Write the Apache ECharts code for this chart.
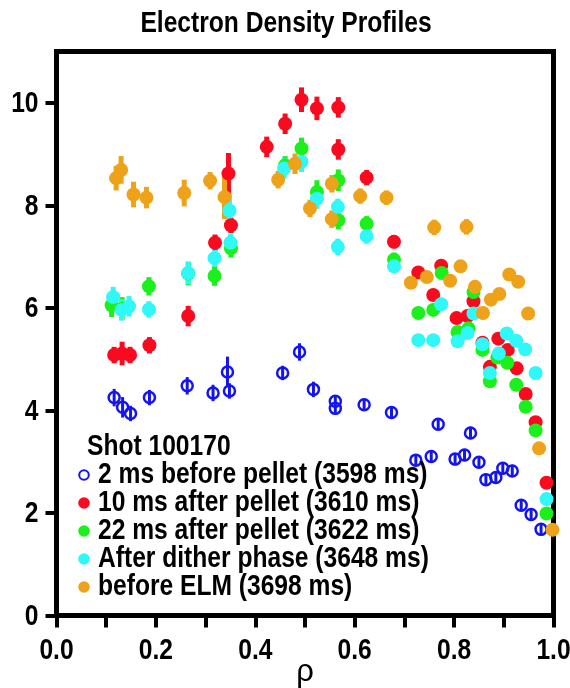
<!DOCTYPE html>
<html>
<head>
<meta charset="utf-8">
<title>Electron Density Profiles</title>
<script src="https://cdn.jsdelivr.net/npm/echarts@6/dist/echarts.min.js"></script>
<style>
  html, body { margin: 0; padding: 0; background: #fff; }
  #chart { width: 570px; height: 688px; }
</style>
</head>
<body>
<div id="chart"></div>
<script>
// Shot 100170 — electron density profiles vs normalized radius rho

const seriesNames = [
  '2 ms before pellet (3598 ms)',
  '10 ms after pellet (3610 ms)',
  '22 ms after pellet (3622 ms)',
  'After dither phase (3648 ms)',
  'before ELM (3698 ms)'
];
const shotLabel = 'Shot 100170';
const titleText = 'Electron Density Profiles';
const xAxisName = 'ρ';

const xTickValues = [0, 0.2, 0.4, 0.6, 0.8, 1.0];
const yTickValues = [0, 2, 4, 6, 8, 10];

// 2 ms before pellet
const rhoBefore = [0.116, 0.133, 0.149, 0.187, 0.263, 0.315, 0.344, 0.348, 0.455, 0.489, 0.517, 0.561, 0.561, 0.619, 0.674,
  0.768, 0.833, 0.723, 0.754, 0.802, 0.821, 0.850, 0.864, 0.884, 0.898, 0.917, 0.935, 0.955, 0.975];
const neBefore = [4.25, 4.06, 3.94, 4.25, 4.48, 4.34, 4.75, 4.38, 4.73, 5.14, 4.41, 4.18, 4.04, 4.11, 3.96,
  3.73, 3.56, 3.03, 3.10, 3.05, 3.13, 2.99, 2.65, 2.69, 2.87, 2.82, 2.15, 1.97, 1.68];
const errBefore = [0.17, 0.2, 0.15, 0.15, 0.17, 0.16, 0.3, 0.15, 0.14, 0.17, 0.15, 0.12, 0.12, 0.12, 0.12,
  0.12, 0.12, 0.12, 0.12, 0.12, 0.12, 0.12, 0.12, 0.12, 0.12, 0.12, 0.12, 0.12, 0.12];

// 10 ms after pellet
const rhoAfter10 = [0.116, 0.132, 0.148, 0.187, 0.265, 0.319, 0.346, 0.351, 0.423, 0.460, 0.493, 0.524, 0.567, 0.567, 0.624,
  0.679, 0.728, 0.774, 0.758, 0.805, 0.827, 0.839, 0.857, 0.889, 0.908, 0.872, 0.926, 0.944, 0.964, 0.986];
const neAfter10 = [5.08, 5.11, 5.08, 5.27, 5.84, 7.27, 8.62, 7.61, 9.14, 9.59, 10.06, 9.89, 9.91, 9.09, 8.54,
  7.29, 6.69, 6.82, 6.25, 5.80, 5.84, 6.13, 5.32, 5.40, 5.18, 4.85, 4.82, 4.32, 3.77, 2.59];
const errAfter10 = [0.16, 0.23, 0.16, 0.16, 0.2, 0.16, 0.4, 0.15, 0.2, 0.2, 0.24, 0.23, 0.2, 0.2, 0.15,
  0.13, 0.1, 0.1, 0.1, 0.1, 0.1, 0.1, 0.1, 0.1, 0.1, 0.1, 0.1, 0.1, 0.1, 0.1];

// 22 ms after pellet
const rhoAfter22 = [0.111, 0.132, 0.186, 0.265, 0.318, 0.351, 0.460, 0.493, 0.524, 0.567, 0.567, 0.624, 0.679,
  0.728, 0.758, 0.775, 0.807, 0.829, 0.839, 0.857, 0.887, 0.907, 0.872, 0.925, 0.944, 0.964, 0.986];
const neAfter22 = [6.05, 5.99, 6.42, 6.67, 6.62, 7.16, 8.78, 9.11, 8.26, 8.49, 7.71, 7.64, 6.94,
  5.90, 5.96, 6.68, 5.53, 5.60, 6.31, 5.18, 5.03, 4.93, 4.57, 4.50, 4.07, 3.61, 1.99];
const errAfter22 = [0.23, 0.22, 0.18, 0.23, 0.19, 0.18, 0.18, 0.21, 0.23, 0.21, 0.18, 0.15, 0.14,
  0.1, 0.1, 0.1, 0.1, 0.1, 0.1, 0.1, 0.1, 0.1, 0.1, 0.1, 0.1, 0.1, 0.1];

// After dither phase
const rhoDither = [0.114, 0.131, 0.146, 0.186, 0.265, 0.318, 0.350, 0.348, 0.458, 0.493, 0.524, 0.566, 0.566, 0.624, 0.679,
  0.728, 0.758, 0.774, 0.807, 0.827, 0.839, 0.857, 0.890, 0.872, 0.906, 0.925, 0.943, 0.964, 0.986];
const neDither = [6.21, 5.96, 6.03, 5.97, 6.68, 6.97, 7.27, 7.90, 8.72, 8.85, 8.13, 7.97, 7.19, 7.40, 6.81,
  5.37, 5.37, 6.07, 5.35, 5.51, 5.89, 5.29, 5.11, 4.73, 5.50, 5.36, 5.19, 4.73, 2.27];
const errDither = [0.2, 0.21, 0.2, 0.16, 0.22, 0.16, 0.18, 0.33, 0.2, 0.2, 0.2, 0.16, 0.16, 0.15, 0.12,
  0.08, 0.08, 0.08, 0.08, 0.08, 0.08, 0.08, 0.08, 0.08, 0.08, 0.08, 0.08, 0.08, 0.08];

// before ELM
const rhoElm = [0.120, 0.130, 0.155, 0.181, 0.257, 0.309, 0.338, 0.446, 0.480, 0.510, 0.554, 0.554, 0.611, 0.664,
  0.760, 0.825, 0.713, 0.745, 0.792, 0.813, 0.842, 0.858, 0.874, 0.891, 0.911, 0.929, 0.949, 0.971, 0.998];
const neElm = [8.53, 8.69, 8.21, 8.15, 8.24, 8.48, 8.16, 8.50, 8.81, 7.94, 8.42, 7.73, 8.18, 8.15,
  7.57, 7.58, 6.49, 6.60, 6.53, 6.81, 6.41, 5.90, 6.16, 6.27, 6.65, 6.51, 5.89, 3.26, 1.67];
const errElm = [0.24, 0.27, 0.25, 0.21, 0.26, 0.17, 0.43, 0.17, 0.2, 0.17, 0.17, 0.17, 0.15, 0.14,
  0.15, 0.15, 0.1, 0.1, 0.1, 0.1, 0.1, 0.1, 0.1, 0.1, 0.1, 0.1, 0.1, 0.1, 0.1];

const groups = [
  { rho: rhoBefore, ne: neBefore, err: errBefore },
  { rho: rhoAfter10, ne: neAfter10, err: errAfter10 },
  { rho: rhoAfter22, ne: neAfter22, err: errAfter22 },
  { rho: rhoDither, ne: neDither, err: errDither },
  { rho: rhoElm, ne: neElm, err: errElm }
];

// drawing styles
const colors = ['#1414f0', '#fa0a1e', '#1cf01c', '#30f8f8', '#eea21a'];
// narrow bold face: Liberation Sans Bold squeezed horizontally
const LABEL_FONT = 'bold 30px "Liberation Sans", Arial, sans-serif';
const NARROW = 0.82;

function errorBarSeries(idx) {
  const g = groups[idx];
  const color = colors[idx];
  const hollow = idx === 0;
  return {
    type: 'custom',
    name: seriesNames[idx] + ' (error)',
    silent: true,
    clip: false,
    data: g.rho.map((r, i) => [r, g.ne[i] - g.err[i], g.ne[i] + g.err[i]]),
    encode: { x: 0, y: [1, 2] },
    renderItem(params, api) {
      const lo = api.coord([api.value(0), api.value(1)]);
      const hi = api.coord([api.value(0), api.value(2)]);
      return {
        type: 'line',
        shape: { x1: lo[0], y1: lo[1], x2: hi[0], y2: hi[1] },
        style: { stroke: color, lineWidth: hollow ? 3 : 5 }
      };
    }
  };
}

function pointSeries(idx) {
  const g = groups[idx];
  const hollow = idx === 0;
  return {
    type: 'scatter',
    name: seriesNames[idx],
    clip: false,
    symbol: 'circle',
    symbolSize: hollow ? 11 : 14,
    data: g.rho.map((r, i) => [r, g.ne[i]]),
    itemStyle: hollow
      ? { color: 'rgba(255,255,255,0)', borderColor: colors[idx], borderWidth: 2.5, opacity: 1 }
      : { color: colors[idx], opacity: 1 },
    emphasis: { disabled: true }
  };
}

// tick labels placed through the axes' own scales, drawn in the narrow face
const xTickLabelSeries = {
  type: 'custom', name: 'x tick labels', silent: true, clip: false, z: 5,
  data: xTickValues.map(v => [v, 0]),
  encode: { x: 0, y: 1 },
  renderItem(params, api) {
    const p = api.coord([api.value(0), api.value(1)]);
    return {
      type: 'text', x: p[0], y: p[1] + 35, scaleX: NARROW,
      style: { text: api.value(0).toFixed(1), font: LABEL_FONT, fill: '#000', align: 'center', verticalAlign: 'middle' }
    };
  }
};
const yTickLabelSeries = {
  type: 'custom', name: 'y tick labels', silent: true, clip: false, z: 5,
  data: yTickValues.map(v => [0, v]),
  encode: { x: 0, y: 1 },
  renderItem(params, api) {
    const p = api.coord([api.value(0), api.value(1)]);
    return {
      type: 'text', x: p[0] - 18, y: p[1] + 1, scaleX: NARROW,
      style: { text: String(api.value(1)), font: LABEL_FONT, fill: '#000', align: 'right', verticalAlign: 'middle' }
    };
  }
};

const series = [];
groups.forEach((g, i) => {
  series.push(errorBarSeries(i));
  series.push(pointSeries(i));
});
series.push(xTickLabelSeries, yTickLabelSeries);

// legend block: key marker + label per series
const legendLeft = 84;
const legendTop = 475;
const legendStep = 28;
const legendGraphics = [{
  type: 'text', x: 87, y: 447, scaleX: NARROW, z: 100,
  style: { text: shotLabel, font: LABEL_FONT, fill: '#000', align: 'left', verticalAlign: 'middle' }
}];
seriesNames.forEach((name, i) => {
  const cy = legendTop + i * legendStep;
  legendGraphics.push({
    type: 'circle', z: 100,
    shape: { cx: legendLeft, cy: cy, r: i === 0 ? 4.8 : 5.8 },
    style: i === 0 ? { fill: '#fff', stroke: colors[0], lineWidth: 2 } : { fill: colors[i] }
  });
  legendGraphics.push({
    type: 'text', x: legendLeft + 14, y: cy, scaleX: NARROW, z: 100,
    style: { text: name, font: LABEL_FONT, fill: '#000', align: 'left', verticalAlign: 'middle' }
  });
});

const chart = echarts.init(document.getElementById('chart'), null, { renderer: 'canvas' });

chart.setOption({
  animation: false,
  backgroundColor: '#fff',
  graphic: [
    {
      type: 'text', x: 286, y: 24, scaleX: NARROW,
      style: { text: titleText, fill: '#000', font: LABEL_FONT, align: 'center', verticalAlign: 'middle' }
    }
  ].concat(legendGraphics),
  grid: {
    left: 56.5, right: 16.5, top: 51.5, bottom: 72.5,
    outerBoundsMode: 'none', containLabel: false,
    show: true, borderColor: '#000', borderWidth: 5, backgroundColor: 'rgba(0,0,0,0)'
  },
  xAxis: {
    type: 'value', min: 0, max: 1, interval: 0.1,
    axisLine: { show: false },
    axisTick: { show: true, inside: false, length: 12, lineStyle: { color: '#000', width: 4 } },
    axisLabel: { show: false },
    splitLine: { show: false },
    name: xAxisName, nameLocation: 'middle', nameGap: 41,
    nameTextStyle: { fontSize: 31, color: '#000', fontFamily: '"Liberation Sans", Arial, sans-serif' }
  },
  yAxis: {
    type: 'value', min: 0, max: 11,
    axisLine: { show: false },
    axisTick: { show: true, inside: false, length: 11, customValues: yTickValues, lineStyle: { color: '#000', width: 4 } },
    axisLabel: { show: false },
    splitLine: { show: false }
  },
  series: series
});
</script>
</body>
</html>
